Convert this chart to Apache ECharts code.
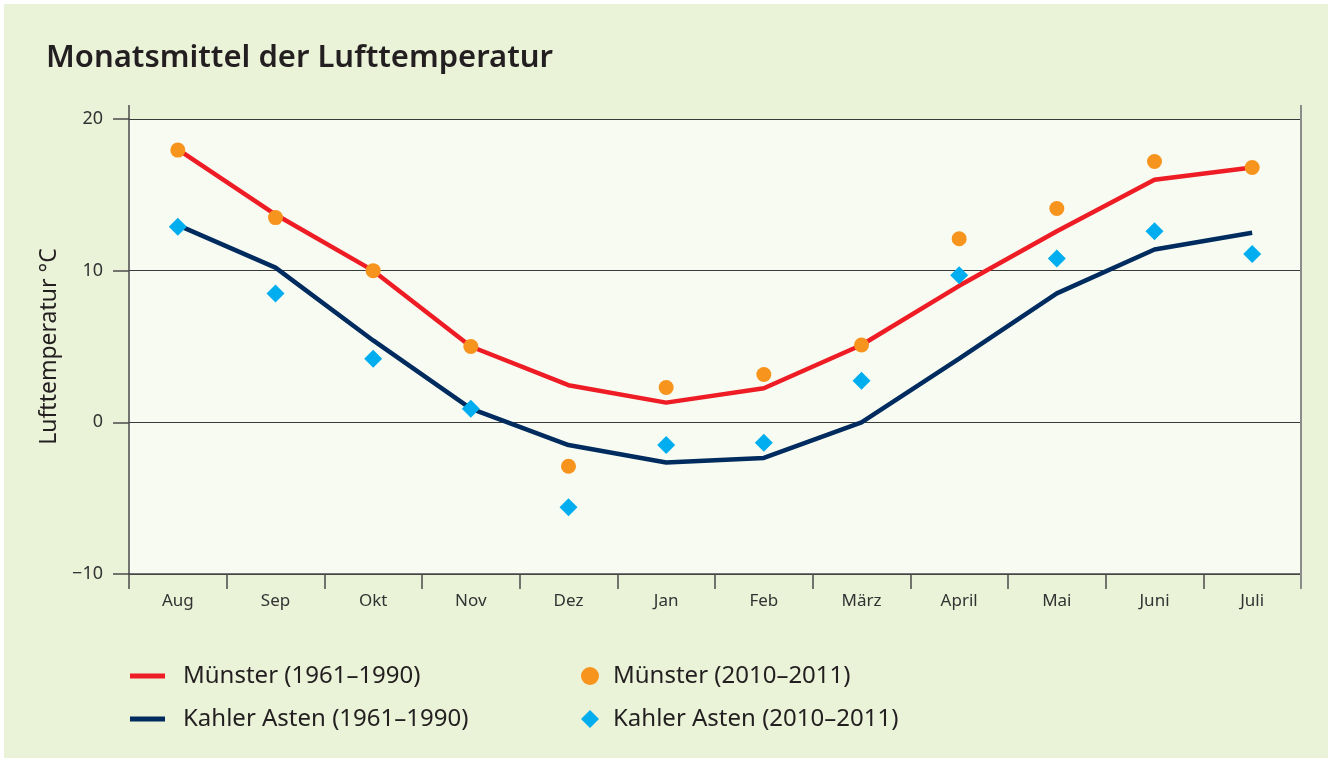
<!DOCTYPE html>
<html>
<head>
<meta charset="utf-8">
<script src="https://cdn.jsdelivr.net/npm/echarts@6/dist/echarts.min.js"></script>
<style>
  html, body { margin: 0; padding: 0; background: #ffffff; }
  #main { position: absolute; left: 4px; top: 4px; width: 1324px; height: 754px; }
</style>
</head>
<body>
<div id="main"></div>
<script>
// Monate (Aug bis Juli)
var months = ['Aug', 'Sep', 'Okt', 'Nov', 'Dez', 'Jan', 'Feb', 'März', 'April', 'Mai', 'Juni', 'Juli'];
// Mittelwerte 1961–1990
var muensterMean = [18.0, 13.7, 10.0, 5.0, 2.45, 1.3, 2.25, 5.1, 9.0, 12.6, 16.0, 16.8];
var kahlerMean = [13.0, 10.2, 5.4, 0.9, -1.5, -2.65, -2.35, 0.0, 4.2, 8.5, 11.4, 12.5];
// Messwerte 2010–2011
var muensterYear = [17.95, 13.5, 10.0, 5.0, -2.9, 2.3, 3.15, 5.1, 12.1, 14.1, 17.2, 16.8];
var kahlerYear = [12.9, 8.5, 4.2, 0.9, -5.6, -1.5, -1.35, 2.75, 9.7, 10.8, 12.6, 11.1];
// Achse
var yTicks = [-10, 0, 10, 20];

var FONT = 'Noto Sans';
var W = 1324, H = 754;
var gLeft = 125, gRight = 27, gTop = 115, gBottom = 184;

var chart = echarts.init(document.getElementById('main'));

var option = {
  backgroundColor: '#eaf2d7',
  animation: false,
  textStyle: { fontFamily: FONT },
  title: {
    text: 'Monatsmittel der Lufttemperatur',
    left: 42,
    top: 36,
    padding: 0,
    textStyle: { fontFamily: FONT, fontSize: 31, fontWeight: 600, color: '#231f20', lineHeight: 36 }
  },
  grid: {
    show: true,
    left: gLeft, right: gRight, top: gTop, bottom: gBottom,
    backgroundColor: '#f8fbf1',
    borderWidth: 0
  },
  legend: [
    {
      orient: 'vertical',
      left: 126, top: 660,
      padding: 0,
      itemWidth: 35, itemHeight: 5, itemGap: 19,
      textStyle: { fontSize: 24, color: '#231f20', lineHeight: 24, padding: [0, 0, 0, 13] },
      data: [
        { name: 'Münster (1961–1990)', icon: 'rect' },
        { name: 'Kahler Asten (1961–1990)', icon: 'rect' }
      ]
    },
    {
      orient: 'vertical',
      left: 577, top: 660,
      padding: 0,
      itemWidth: 18, itemHeight: 18, itemGap: 19,
      textStyle: { fontSize: 24, color: '#231f20', lineHeight: 24, padding: [0, 0, 0, 9] },
      data: [
        { name: 'Münster (2010–2011)', icon: 'circle' },
        { name: 'Kahler Asten (2010–2011)', icon: 'diamond' }
      ]
    }
  ],
  xAxis: {
    type: 'category',
    data: months,
    boundaryGap: true,
    axisLine: { show: true, onZero: false, lineStyle: { color: '#4a4a4a', width: 1.5 } },
    axisTick: { show: true, length: 15, lineStyle: { color: '#4a4a4a', width: 1.5 } },
    axisLabel: { margin: 19, fontSize: 17, color: '#333333', fontFamily: FONT },
    splitLine: { show: false }
  },
  yAxis: {
    type: 'value',
    min: yTicks[0],
    max: yTicks[yTicks.length - 1],
    interval: 10,
    name: 'Lufttemperatur °C',
    nameLocation: 'middle',
    nameRotate: 90,
    nameGap: 64,
    nameTextStyle: { fontSize: 23, color: '#231f20', fontFamily: FONT },
    axisLine: { show: true, lineStyle: { color: '#4a4a4a', width: 1.5 } },
    axisTick: { show: true, length: 16, lineStyle: { color: '#4a4a4a', width: 1.5 } },
    axisLabel: {
      margin: 26, fontSize: 18, color: '#333333', fontFamily: FONT,
      formatter: function (v) { return String(v).replace('-', '\u2212'); }
    },
    splitLine: { show: true, lineStyle: { color: '#3a3a3a', width: 1.2 } }
  },
  graphic: [
    // Verlaengerung der senkrechten Rahmenlinien
    { type: 'line', silent: true, z: 10,
      shape: { x1: gLeft, y1: gTop - 14, x2: gLeft, y2: gTop },
      style: { stroke: '#4a4a4a', lineWidth: 1.5 } },
    { type: 'line', silent: true, z: 10,
      shape: { x1: W - gRight, y1: gTop - 14, x2: W - gRight, y2: H - gBottom + 15 },
      style: { stroke: '#8c8c8c', lineWidth: 2 } }
  ],
  series: [
    {
      name: 'Münster (1961–1990)',
      type: 'line',
      data: muensterMean,
      symbol: 'none',
      z: 2,
      lineStyle: { color: '#ee1c25', width: 4.5 },
      itemStyle: { color: '#ee1c25' }
    },
    {
      name: 'Kahler Asten (1961–1990)',
      type: 'line',
      data: kahlerMean,
      symbol: 'none',
      z: 2,
      lineStyle: { color: '#002b5f', width: 4.5 },
      itemStyle: { color: '#002b5f' }
    },
    {
      name: 'Münster (2010–2011)',
      type: 'scatter',
      data: muensterYear,
      symbol: 'circle',
      symbolSize: 15,
      z: 3,
      itemStyle: { color: '#f7941d', opacity: 1 }
    },
    {
      name: 'Kahler Asten (2010–2011)',
      type: 'scatter',
      data: kahlerYear,
      symbol: 'diamond',
      symbolSize: 18,
      z: 3,
      itemStyle: { color: '#00aeef', opacity: 1 }
    }
  ]
};

chart.setOption(option);
</script>
</body>
</html>
